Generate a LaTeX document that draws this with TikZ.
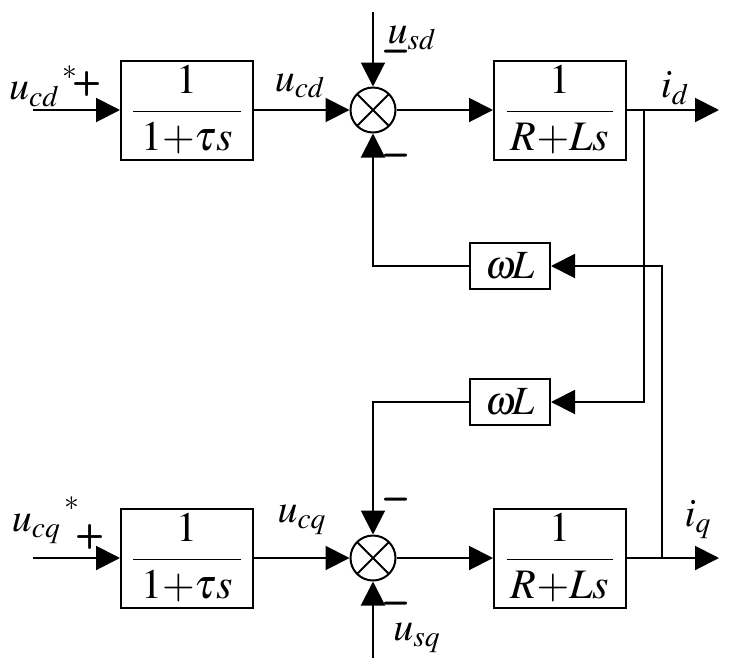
\documentclass[tikz,border=0pt]{standalone}
\usepackage{mathptmx}
\usetikzlibrary{arrows.meta}

\begin{document}
\begin{tikzpicture}[x=0.5pt, y=-0.5pt, line width=1pt, font=\fontsize{20}{24}\selectfont,
  blk/.style={draw, minimum width=66pt, minimum height=49.5pt, inner sep=0pt, font=\fontsize{21}{24}\selectfont},
  gain/.style={draw, minimum width=40pt, minimum height=23pt, inner sep=0pt},
  sumj/.style={circle, draw, minimum size=22.5pt, inner sep=0pt,
    path picture={\draw (path picture bounding box.north west) -- (path picture bounding box.south east)
      (path picture bounding box.north east) -- (path picture bounding box.south west);}},
  sgn/.style={inner sep=0pt, font=\fontsize{17}{18}\sffamily\bfseries},
  neg/.style={inner sep=0pt, font=\fontsize{21}{22}\sffamily\bfseries},
  sig/.style={-{Triangle[length=12pt, width=12pt]}}]
  \useasboundingbox (0,0) rectangle (729,670);

  % d axis
  \coordinate (inD) at (33,110);
  \node[blk] (tauD) at (187,110) {$\displaystyle\frac{1}{\hspace{4pt}1{+}\tau s\hspace{4pt}}$};
  \node[sumj] (sumD) at (373,110) {};
  \node[blk] (plantD) at (560,110) {$\displaystyle\frac{1}{\hspace{2pt}R{+}Ls\hspace{2pt}}$};
  \coordinate (outD) at (719,110);
  \coordinate (brD) at (644,110);
  \coordinate (usdIn) at (373,12);

  % q axis
  \coordinate (inQ) at (33,558);
  \node[blk] (tauQ) at (187,558) {$\displaystyle\frac{1}{\hspace{4pt}1{+}\tau s\hspace{4pt}}$};
  \node[sumj] (sumQ) at (373,558) {};
  \node[blk] (plantQ) at (560,558) {$\displaystyle\frac{1}{\hspace{2pt}R{+}Ls\hspace{2pt}}$};
  \coordinate (outQ) at (719,558);
  \coordinate (brQ) at (662,558);
  \coordinate (usqIn) at (373,658);

  % cross coupling
  \node[gain] (wlD) at (510,266) {$\omega\!L$};
  \node[gain] (wlQ) at (510,402) {$\omega\!L$};

  \draw[sig] (inD) -- (tauD);
  \draw[sig] (tauD) -- (sumD);
  \draw[sig] (sumD) -- (plantD);
  \draw[sig] (plantD) -- (outD);
  \draw[sig] (usdIn) -- (sumD);
  \draw[sig] (inQ) -- (tauQ);
  \draw[sig] (tauQ) -- (sumQ);
  \draw[sig] (sumQ) -- (plantQ);
  \draw[sig] (plantQ) -- (outQ);
  \draw[sig] (usqIn) -- (sumQ);
  \draw[sig] (brD) |- (wlQ);
  \draw[sig] (brQ) |- (wlD);
  \draw[sig] (wlD) -| (sumD);
  \draw[sig] (wlQ) -| (sumQ);

  % labels
  \node (ucdRef) at (44,86) {$u_{cd}{}^{\,\raisebox{3pt}{$\scriptstyle *$}}$};
  \node[sgn] (plusD) at (87,84) {+};
  \node (ucd) at (300,86) {$u_{cd}$};
  \node (usd) at (412,38) {$u_{sd}$};
  \node[neg] (minD1) at (396,57) {\textendash};
  \node[neg] (minD2) at (396,161) {\textendash};
  \node (idLbl) at (675,88) {$i_d$};
  \node (ucqRef) at (46,520) {$u_{cq}{}^{\,\raisebox{3pt}{$\scriptstyle *$}}$};
  \node[sgn] (plusQ) at (90,537) {+};
  \node (ucq) at (302,520) {$u_{cq}$};
  \node[neg] (minQ1) at (396,505) {\textendash};
  \node[neg] (minQ2) at (396,609) {\textendash};
  \node (usq) at (417,638) {$u_{sq}$};
  \node (iqLbl) at (698,520) {$i_q$};
\end{tikzpicture}
\end{document}
